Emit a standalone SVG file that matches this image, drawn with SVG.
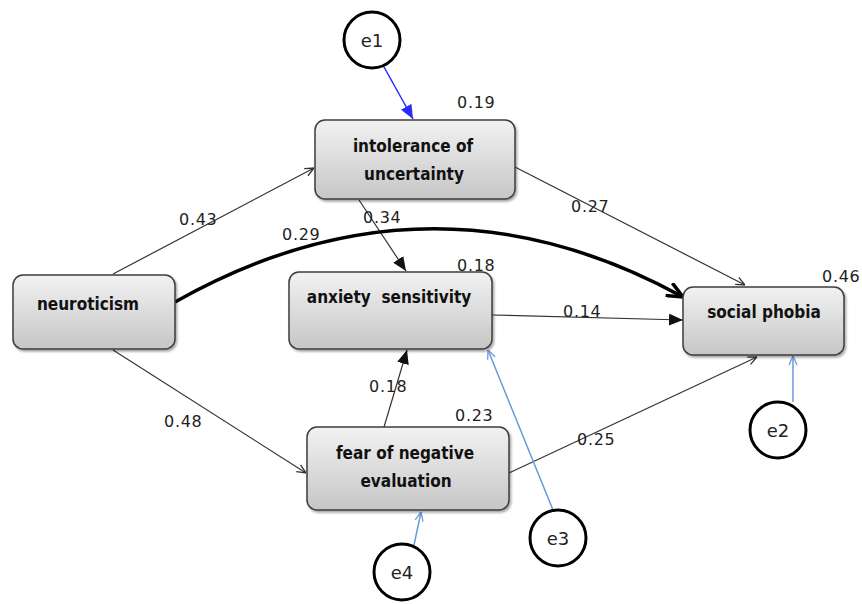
<svg xmlns="http://www.w3.org/2000/svg" width="862" height="604" viewBox="0 0 862 604">
<defs>
<linearGradient id="g" x1="0" y1="0" x2="0" y2="1">
<stop offset="0" stop-color="#f2f2f2"/>
<stop offset="1" stop-color="#c6c6c6"/>
</linearGradient>
<filter id="sh" x="-10%" y="-10%" width="125%" height="130%">
<feDropShadow dx="1.5" dy="2" stdDeviation="1.2" flood-color="#000" flood-opacity="0.35"/>
</filter>
<marker id="open" viewBox="0 0 10 10" refX="10" refY="5" markerWidth="10" markerHeight="10" markerUnits="userSpaceOnUse" orient="auto">
<path d="M1,1 L10,5 L1,9" fill="none" stroke="#333" stroke-width="1.3"/>
</marker>
<marker id="openblue" viewBox="0 0 10 10" refX="10" refY="5" markerWidth="10" markerHeight="10" markerUnits="userSpaceOnUse" orient="auto">
<path d="M1,1 L10,5 L1,9" fill="none" stroke="#6a9ad8" stroke-width="1.3"/>
</marker>
<marker id="fill" viewBox="0 0 14 12" refX="14" refY="6" markerWidth="14" markerHeight="12" markerUnits="userSpaceOnUse" orient="auto">
<path d="M0,0 L14,6 L0,12 Z" fill="#111"/>
</marker>
<marker id="fillblue" viewBox="0 0 14 12" refX="14" refY="6" markerWidth="14" markerHeight="12" markerUnits="userSpaceOnUse" orient="auto">
<path d="M0,0 L14,6 L0,12 Z" fill="#2a2aff"/>
</marker>
<marker id="thick" viewBox="0 0 18 16" refX="17" refY="8" markerWidth="18" markerHeight="16" markerUnits="userSpaceOnUse" orient="auto">
<path d="M1,1 L17,8 L1,15" fill="none" stroke="#000" stroke-width="3.5" stroke-linejoin="miter"/>
</marker>
</defs>
<style>
.node rect{fill:url(#g);stroke:#3c3c3c;stroke-width:1.5;filter:url(#sh)}
.node text{font-family:"DejaVu Sans Condensed","DejaVu Sans",sans-serif;font-weight:bold;font-size:17px;fill:#111;text-anchor:middle}
.err circle{fill:#fff;stroke:#000;stroke-width:3}
.err text{font-family:"DejaVu Sans",sans-serif;font-size:18px;fill:#222;text-anchor:middle}
.num{font-family:"DejaVu Sans",sans-serif;font-size:16px;fill:#222;letter-spacing:0.7px}
.thin{fill:none;stroke:#333;stroke-width:1.2}
.lb{fill:none;stroke:#6a9ad8;stroke-width:1.5}
</style>
<g id="connectors">
<path class="thin" d="M113,274 L314,168" marker-end="url(#open)"/>
<path class="thin" d="M113,350 L306,473" marker-end="url(#open)"/>
<path class="thin" d="M515,167 L745,285" marker-end="url(#open)"/>
<path class="thin" d="M509,473 L757,357" marker-end="url(#open)"/>
<path class="thin" d="M359,200 L406,271" marker-end="url(#fill)"/>
<path class="thin" d="M384,427 L407,350" marker-end="url(#fill)"/>
<path class="thin" d="M492,315 L683,320" marker-end="url(#fill)"/>
<path d="M175,302 Q430,158 683,297" fill="none" stroke="#000" stroke-width="3.5" marker-end="url(#thick)"/>
<path d="M384,67 L413,119" fill="none" stroke="#2a2aff" stroke-width="1.5" marker-end="url(#fillblue)"/>
<path class="lb" d="M793,402 L793,356" marker-end="url(#openblue)"/>
<path class="lb" d="M553,510 L488,350" marker-end="url(#openblue)"/>
<path class="lb" d="M414,545 L421,512" marker-end="url(#openblue)"/>
</g>
<g id="neuroticism" class="node"><rect x="13" y="275" width="162" height="74" rx="10"/><text x="88" y="310">neuroticism</text></g>
<g id="intolerance" class="node"><rect x="315" y="120" width="200" height="79" rx="10"/><text x="413" y="152">intolerance of</text><text x="414" y="180">uncertainty</text></g>
<g id="anxiety" class="node"><rect x="289" y="272" width="203" height="77" rx="10"/><text x="389" y="303" xml:space="preserve">anxiety  sensitivity</text></g>
<g id="fear" class="node"><rect x="307" y="427" width="202" height="83" rx="10"/><text x="405" y="459">fear of negative</text><text x="406" y="487">evaluation</text></g>
<g id="social" class="node"><rect x="683" y="287" width="161" height="68" rx="10"/><text x="764" y="318">social phobia</text></g>
<g id="e1" class="err"><circle cx="372" cy="40" r="28"/><text x="372" y="47">e1</text></g>
<g id="e2" class="err"><circle cx="778" cy="430" r="28"/><text x="778" y="437">e2</text></g>
<g id="e3" class="err"><circle cx="558" cy="538" r="28"/><text x="558" y="545">e3</text></g>
<g id="e4" class="err"><circle cx="402" cy="572" r="28"/><text x="402" y="579">e4</text></g>
<g id="labels">
<text class="num" x="457" y="108">0.19</text>
<text class="num" x="179" y="225">0.43</text>
<text class="num" x="282" y="240">0.29</text>
<text class="num" x="363" y="223">0.34</text>
<text class="num" x="457" y="271">0.18</text>
<text class="num" x="571" y="212">0.27</text>
<text class="num" x="563" y="317">0.14</text>
<text class="num" x="822" y="282">0.46</text>
<text class="num" x="369" y="392">0.18</text>
<text class="num" x="455" y="421">0.23</text>
<text class="num" x="577" y="445">0.25</text>
<text class="num" x="164" y="427">0.48</text>
</g>
</svg>
